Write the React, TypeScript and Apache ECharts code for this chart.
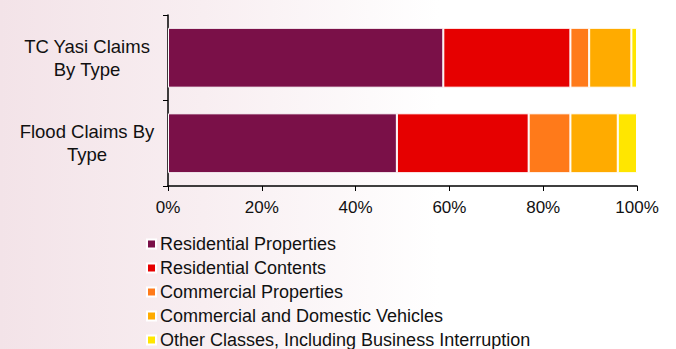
import React, { useEffect, useRef } from "react";
import * as echarts from "echarts";

const categories = ["TC Yasi Claims\nBy Type", "Flood Claims By\nType"];
const seriesNames = [
  "Residential Properties",
  "Residential Contents",
  "Commercial Properties",
  "Commercial and Domestic Vehicles",
  "Other Classes, Including Business Interruption",
];
const residentialProperties = [58.7, 48.8];
const residentialContents = [27.1, 28.1];
const commercialProperties = [4.0, 8.9];
const vehicles = [9.0, 10.1];
const otherClasses = [1.2, 4.1];
const xTicks = [0, 20, 40, 60, 80, 100];
const colors = ["#7a1048", "#e60000", "#ff7a1a", "#ffab00", "#ffe600"];

export default function App() {
  const ref = useRef<HTMLDivElement>(null);
  useEffect(() => {
    if (!ref.current) return;
    const chart = echarts.init(ref.current, null, { renderer: "svg" });
    const values = [residentialProperties, residentialContents, commercialProperties, vehicles, otherClasses];
    chart.setOption({
      animation: false,
      textStyle: { fontFamily: "Liberation Sans, Arial, sans-serif" },
      grid: { left: 168, right: 39, top: 15, bottom: 163, containLabel: false },
      legend: {
        orient: "vertical",
        left: 141,
        top: 230,
        height: 200,
        itemWidth: 9,
        itemHeight: 9,
        itemGap: 6,
        icon: "rect",
        textStyle: {
          fontSize: 18,
          color: "#111",
          fontFamily: "Liberation Sans, Arial, sans-serif",
          padding: [0, 0, 0, -1],
        },
        data: seriesNames,
      },
      xAxis: {
        type: "value",
        min: xTicks[0],
        max: xTicks[xTicks.length - 1],
        interval: 20,
        axisLine: { show: true, lineStyle: { color: "#000", width: 1.5 } },
        axisTick: { show: true, length: 5, lineStyle: { color: "#000" } },
        splitLine: { show: false },
        axisLabel: { formatter: "{value}%", fontSize: 17, color: "#111", margin: 13 },
      },
      yAxis: {
        type: "category",
        inverse: true,
        data: categories,
        axisLine: { show: true, lineStyle: { color: "#000", width: 1.5 } },
        axisTick: { show: true, length: 5, lineStyle: { color: "#000" } },
        axisLabel: { fontSize: 18.5, color: "#111", align: "center", margin: 81, lineHeight: 23 },
      },
      series: seriesNames.map((name, i) => ({
        name,
        type: "bar",
        stack: "total",
        barCategoryGap: "30%",
        data: values[i],
        itemStyle: { color: colors[i], borderColor: "#fff", borderWidth: 1 },
      })),
    });
    return () => chart.dispose();
  }, []);
  return (
    <div
      ref={ref}
      style={{
        position: "absolute",
        left: 0,
        top: 0,
        width: 676,
        height: 349,
        background: "linear-gradient(to right, #f3e3e8 0%, #f8eef1 30%, #ffffff 65%)",
      }}
    />
  );
}
